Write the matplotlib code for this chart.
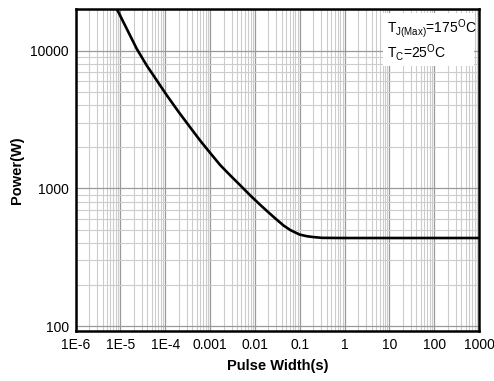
import numpy as np
import matplotlib
matplotlib.use("Agg")
import matplotlib.pyplot as plt
from matplotlib.patches import Rectangle
from matplotlib.ticker import LogLocator, FixedLocator, NullFormatter

plt.rcParams['font.family'] = ['Liberation Sans', 'DejaVu Sans']
plt.rcParams['mathtext.default'] = 'regular'

# curve (pulse width in s, power in W)
pulse_width = [8.32e-6, 1.39e-5, 2.32e-5, 3.88e-5, 6.49e-5, 1.09e-4, 1.97e-4, 3.6e-4,
               6.01e-4, 1.0e-3, 1.68e-3, 2.81e-3, 4.7e-3, 7.85e-3, 1.31e-2, 1.86e-2,
               2.99e-2, 4.36e-2, 6.14e-2, 9.9e-2, 0.145, 0.2, 0.316, 1, 10, 100, 1000]
power = [20045, 14355, 10280, 7780, 6067, 4721, 3600, 2770,
         2220, 1810, 1475, 1242, 1052, 889, 759, 684,
         596, 537, 498, 462, 449, 443, 437, 436, 436, 436, 436]

xticks = [1e-6, 1e-5, 1e-4, 1e-3, 1e-2, 1e-1, 1, 10, 100, 1000]
xticklabels = ["1E-6", "1E-5", "1E-4", "0.001", "0.01", "0.1", "1", "10", "100", "1000"]
yticks = [100, 1000, 10000]
yticklabels = ["100", "1000", "10000"]

fig = plt.figure(figsize=(4.94, 3.81), dpi=100)
ax = fig.add_axes([0.153, 0.131, 0.817, 0.845])

ax.plot(pulse_width, power, color='black', lw=1.9, zorder=3,
        solid_joinstyle='round', solid_capstyle='butt')

ax.set_xscale('log')
ax.set_yscale('log')
ax.set_xlim(1e-6, 1000)
ax.set_ylim(92, 20000)

ax.xaxis.set_major_locator(FixedLocator(xticks))
ax.set_xticklabels(xticklabels)
ax.xaxis.set_minor_locator(LogLocator(base=10, subs=np.arange(2, 10), numticks=50))
ax.xaxis.set_minor_formatter(NullFormatter())
ax.yaxis.set_major_locator(FixedLocator(yticks))
ax.set_yticklabels(yticklabels)
ax.yaxis.set_minor_locator(LogLocator(base=10, subs=np.arange(2, 10), numticks=50))
ax.yaxis.set_minor_formatter(NullFormatter())

ax.grid(which='major', color='#9a9a9a', lw=0.9)
ax.grid(which='minor', color='#cccccc', lw=0.8)
ax.tick_params(which='both', length=0, labelsize=10, pad=5)

for s in ax.spines.values():
    s.set_linewidth(1.8)
    s.set_color('black')
    s.set_zorder(6)

ax.set_xlabel("Pulse Width(s)", fontsize=10.5, fontweight='bold', labelpad=5)
ax.set_ylabel("Power(W)", fontsize=10.5, fontweight='bold', labelpad=4)

# white box with the conditions
ax.add_patch(Rectangle((0.762, 0.823), 0.225, 0.165, transform=ax.transAxes,
                       facecolor='white', edgecolor='none', zorder=4))
ax.text(0.772, 0.941, r"T$_{J(Max)}$=175$^{O}$C", transform=ax.transAxes,
        fontsize=10, va='center', ha='left', zorder=5)
ax.text(0.772, 0.864, r"T$_{C}$=25$^{O}$C", transform=ax.transAxes,
        fontsize=10, va='center', ha='left', zorder=5)

fig.savefig("out.png", dpi=100)
